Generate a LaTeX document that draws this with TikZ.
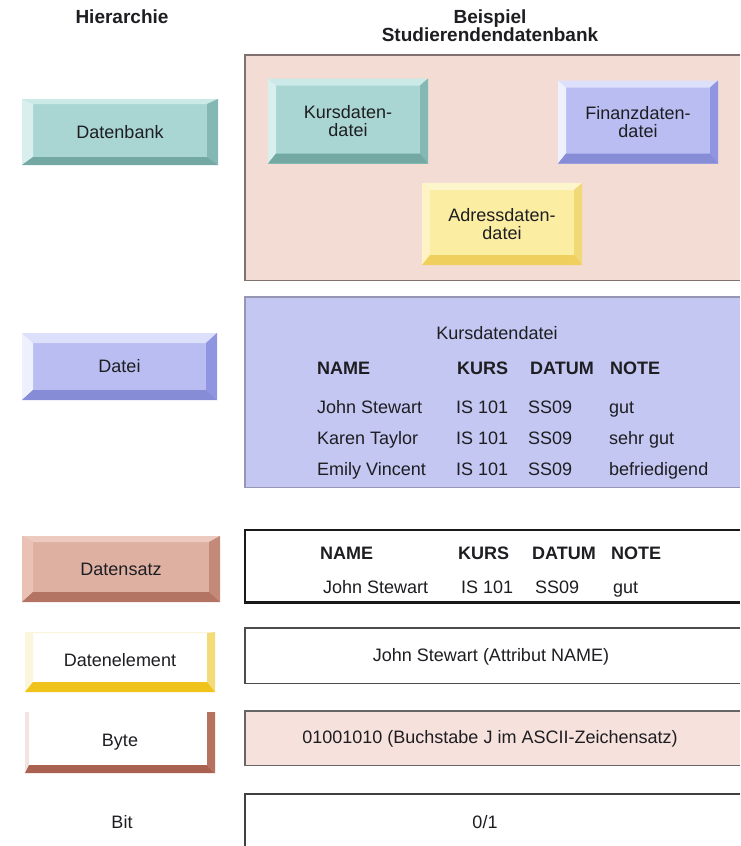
\documentclass[tikz,border=0pt]{standalone}
\usepackage{fontspec}
\setmainfont{Liberation Sans}
\usetikzlibrary{calc}

% text and frame colours
\definecolor{ink}{HTML}{1E1E22}
\definecolor{dbpink}{HTML}{F3DCD4}
\definecolor{filelav}{HTML}{C4C7F2}
\definecolor{bytepink}{HTML}{F6E1DC}

% teal button
\definecolor{tealB}{HTML}{A9D6D2}
\definecolor{tealT}{HTML}{CBE9E6}
\definecolor{tealL}{HTML}{D8EFED}
\definecolor{tealR}{HTML}{83B8B4}
\definecolor{tealD}{HTML}{73A8A3}
% lavender button
\definecolor{lavB}{HTML}{B9BDF1}
\definecolor{lavT}{HTML}{DDE0FB}
\definecolor{lavL}{HTML}{EEF0FE}
\definecolor{lavR}{HTML}{8F95E0}
\definecolor{lavD}{HTML}{868CD6}
% brown-pink button
\definecolor{recB}{HTML}{DDB0A2}
\definecolor{recT}{HTML}{EDCABF}
\definecolor{recL}{HTML}{E9C2B5}
\definecolor{recR}{HTML}{C38A7A}
\definecolor{recD}{HTML}{B47464}
% yellow button
\definecolor{yelB}{HTML}{FBEDA2}
\definecolor{yelT}{HTML}{FDF6CC}
\definecolor{yelL}{HTML}{FDF3C4}
\definecolor{yelR}{HTML}{F1D978}
\definecolor{yelD}{HTML}{EFCF5E}
% data element / byte buttons
\definecolor{elemD}{HTML}{EFC21C}
\definecolor{elemR}{HTML}{F3DC78}
\definecolor{elemL}{HTML}{FBF5DC}
\definecolor{byteD}{HTML}{A9624F}
\definecolor{byteR}{HTML}{B7715F}
\definecolor{byteL}{HTML}{F2E4E0}

\tikzset{
  bvl/.store in=\bvL, bvt/.store in=\bvT, bvr/.store in=\bvR, bvb/.store in=\bvB,
  bvl=11pt, bvt=5pt, bvr=11pt, bvb=8pt,
  % four bevel faces: top, left, right, bottom
  bevel/.style n args={4}{path picture={
    \path (path picture bounding box.north west) coordinate (bvA)
          (path picture bounding box.south east) coordinate (bvC);
    \path (bvA) ++(\bvL,-\bvT) coordinate (bva)
          (bvC) ++(-\bvR,\bvB) coordinate (bvc);
    \fill[#1] (bvA) -- (bvA-|bvC) -- (bva-|bvc) -- (bva) -- cycle;
    \fill[#2] (bvA) -- (bva) -- (bva|-bvc) -- (bvA|-bvC) -- cycle;
    \fill[#3] (bvA-|bvC) -- (bvC) -- (bvc) -- (bva-|bvc) -- cycle;
    \fill[#4] (bvA|-bvC) -- (bva|-bvc) -- (bvc) -- (bvC) -- cycle;
  }},
  btn/.style={rectangle, inner sep=0pt, align=center,
    font=\fontsize{18}{18}\selectfont},
  panel/.style={rectangle, inner sep=0pt, anchor=north west},
  frame/.style={line width=1.2pt},
  cell/.style={anchor=base west, inner sep=0pt},
  head/.style={cell, font=\bfseries\fontsize{18}{20}\selectfont},
  title/.style={font=\bfseries\fontsize{19}{21}\selectfont, align=center, inner sep=0pt},
}

\begin{document}
\begin{tikzpicture}[x=1pt, y=-1pt, every node/.style={text=ink, font=\fontsize{18}{20}\selectfont}]
\useasboundingbox[fill=white] (0,0) rectangle (740,846);

% column headings
\node[title] (hhier) at (122,17) {Hierarchie};
\node[title] (hbsp) at (490,26) {Beispiel\\[-3pt]Studierendendatenbank};

% ---------- right-hand panels ----------
\node[panel, fill=dbpink, minimum width=495pt, minimum height=225pt] (pdb) at (245,55) {};
\draw[frame, draw={rgb,255:red,128;green,112;blue,110}]
  (pdb.north east) -- (pdb.north west) -- (pdb.south west) -- (pdb.south east);

\node[panel, fill=filelav, minimum width=495pt, minimum height=190pt] (pfile) at (245,297) {};
\draw[frame, draw={rgb,255:red,150;green,150;blue,180}]
  (pfile.north east) -- (pfile.north west) -- (pfile.south west) -- (pfile.south east);

\node[panel, fill=white, minimum width=495pt, minimum height=72pt] (prec) at (245,530) {};
\draw[line width=2.2pt, draw=black!90]
  (prec.north east) -- (prec.north west) -- (prec.south west) -- (prec.south east);

\node[panel, fill=white, minimum width=495pt, minimum height=55pt] (pelem) at (245,628) {};
\draw[frame, draw=black!70]
  (pelem.north east) -- (pelem.north west) -- (pelem.south west) -- (pelem.south east);

\node[panel, fill=bytepink, minimum width=495pt, minimum height=54pt] (pbyte) at (245,711) {};
\draw[frame, draw=black!60]
  (pbyte.north east) -- (pbyte.north west) -- (pbyte.south west) -- (pbyte.south east);

\node[panel, fill=white, minimum width=495pt, minimum height=52pt] (pbit) at (245,794) {};
\draw[frame, draw=black!75]
  (pbit.north east) -- (pbit.north west) -- (pbit.south west);

% ---------- files inside the database ----------
\node[btn, fill=tealB, bvl=8pt, bvt=7pt, bvr=8pt, bvb=10pt,
  bevel={tealT}{tealL}{tealR}{tealD},
  minimum width=160pt, minimum height=85pt] (fkurs) at (348,121) {Kursdaten-\\datei};
\node[btn, fill=lavB, bvl=8pt, bvt=7pt, bvr=8pt, bvb=10pt,
  bevel={lavT}{lavL}{lavR}{lavD},
  minimum width=160pt, minimum height=83pt] (ffin) at (638,122) {Finanzdaten-\\datei};
\node[btn, fill=yelB, bvl=8pt, bvt=7pt, bvr=8pt, bvb=10pt,
  bevel={yelT}{yelL}{yelR}{yelD},
  minimum width=160pt, minimum height=82pt] (fadr) at (502,224) {Adressdaten-\\datei};

% ---------- course file table ----------
\node (tfile) at (497,333) {Kursdatendatei};
\node[head] (fhn) at (317,374) {NAME};
\node[head] (fhk) at (457,374) {KURS};
\node[head] (fhd) at (530,374) {DATUM};
\node[head] (fhg) at (610,374) {NOTE};

\node[cell] (f1n) at (317,413) {John Stewart};
\node[cell] (f1k) at (456,413) {IS 101};
\node[cell] (f1d) at (528,413) {SS09};
\node[cell] (f1g) at (609,413) {gut};

\node[cell] (f2n) at (317,444) {Karen Taylor};
\node[cell] (f2k) at (456,444) {IS 101};
\node[cell] (f2d) at (528,444) {SS09};
\node[cell] (f2g) at (609,444) {sehr gut};

\node[cell] (f3n) at (317,475) {Emily Vincent};
\node[cell] (f3k) at (456,475) {IS 101};
\node[cell] (f3d) at (528,475) {SS09};
\node[cell] (f3g) at (609,475) {befriedigend};

% ---------- single record ----------
\node[head] (rhn) at (320,559) {NAME};
\node[head] (rhk) at (458,559) {KURS};
\node[head] (rhd) at (532,559) {DATUM};
\node[head] (rhg) at (611,559) {NOTE};
\node[cell] (rn) at (323,593) {John Stewart};
\node[cell] (rk) at (461,593) {IS 101};
\node[cell] (rd) at (535,593) {SS09};
\node[cell] (rg) at (613,593) {gut};

% ---------- element, byte, bit ----------
\node (telem) at (491,657) {John Stewart (Attribut NAME)};
\node (tbyte) at (490,739) {01001010 (Buchstabe J im ASCII-Zeichensatz)};
\node (tbit) at (485,822) {0/1};

% ---------- hierarchy buttons ----------
\node[btn, fill=tealB, bevel={tealT}{tealL}{tealR}{tealD},
  minimum width=196pt, minimum height=66pt] (bdb) at (120,132) {Datenbank};
\node[btn, fill=lavB, bvt=10pt, bvb=10pt, bevel={lavT}{lavL}{lavR}{lavD},
  minimum width=195pt, minimum height=67pt] (bfile) at (119.5,366.5) {Datei};
\node[btn, fill=recB, bvt=6pt, bvb=10pt, bevel={recT}{recL}{recR}{recD},
  minimum width=198pt, minimum height=66pt] (brec) at (121,569) {Datensatz};
\node[btn, fill=white, bvl=8pt, bvt=1pt, bvr=8pt, bvb=10pt,
  bevel={elemL}{elemL}{elemR}{elemD},
  minimum width=190pt, minimum height=60pt] (belem) at (120,662) {\raisebox{4pt}{Datenelement}};
\node[btn, fill=white, bvl=4pt, bvt=0pt, bvr=8pt, bvb=8pt,
  bevel={white}{byteL}{byteR}{byteD},
  minimum width=190pt, minimum height=61pt] (bbyte) at (120,742.5) {Byte};
\node (bbit) at (122,822) {Bit};
\end{tikzpicture}
\end{document}
